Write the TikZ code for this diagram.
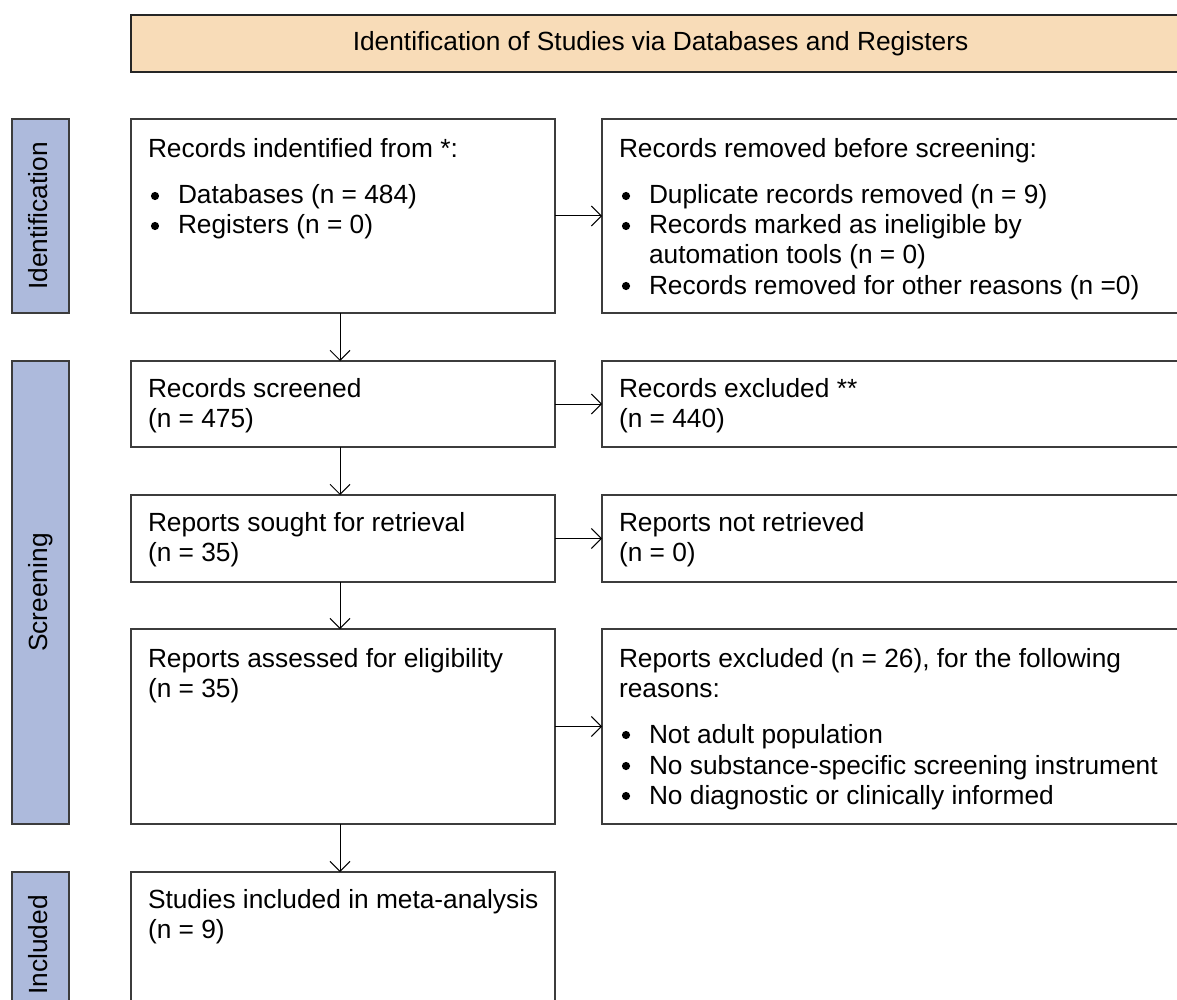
\documentclass[tikz,border=0pt]{standalone}
\usepackage{fontspec}
\setmainfont{Liberation Sans}
\usetikzlibrary{arrows.meta}
\definecolor{peach}{HTML}{F8DCB8}
\definecolor{barblue}{HTML}{ADBADC}
\definecolor{edgegray}{HTML}{3C3C3C}
\begin{document}
\begin{tikzpicture}[x=1pt,y=-1pt,
  every node/.style={inner sep=0pt, outer sep=0pt},
  txt/.style={font=\fontsize{26.3}{30}\selectfont, anchor=base west},
  bul/.style={circle, fill=black, minimum size=8.2pt},
  box/.style={draw=edgegray, line width=1.4pt, fill=white, rectangle, anchor=north west},
  bar/.style={draw=edgegray, line width=1.4pt, fill=barblue, rectangle, anchor=north west, minimum width=57pt},
  barlabel/.style={font=\fontsize{26.3}{30}\selectfont, rotate=90, text height=18pt, text depth=5pt},
  arr/.style={line width=1pt, -{Straight Barb[length=10pt,width=20pt,line width=1pt]}}
]
\useasboundingbox (0,0) rectangle (1177,1000);
\clip (0,0) rectangle (1177,1000);

% header
\node[draw=black!85, line width=1.3pt, fill=peach, rectangle, anchor=north west,
      minimum width=1059pt, minimum height=57pt] (head) at (131,15) {};
\node[font=\fontsize{26.3}{30}\selectfont] (headt) at (head.center) {Identification of Studies via Databases and Registers};

% side bars
\node[bar, minimum height=194pt] (sid) at (12,119) {};
\node[barlabel] (sidt) at (sid.center) {Identification};
\node[bar, minimum height=463pt] (sscr) at (12,361) {};
\node[barlabel] (sscrt) at (sscr.center) {Screening};
\node[bar, minimum height=146pt] (sinc) at (12,872) {};
\node[barlabel] (sinct) at (sinc.center) {Included};

% left column boxes
\node[box, minimum width=424pt, minimum height=194pt] (b1) at (131,119) {};
\node[box, minimum width=424pt, minimum height=86pt] (b3) at (131,361) {};
\node[box, minimum width=424pt, minimum height=87pt] (b5) at (131,495) {};
\node[box, minimum width=424pt, minimum height=195pt] (b7) at (131,629) {};
\node[box, minimum width=424pt, minimum height=150pt] (b9) at (131,872) {};

% right column boxes
\node[box, minimum width=590pt, minimum height=194pt] (b2) at (602,119) {};
\node[box, minimum width=590pt, minimum height=86pt] (b4) at (602,361) {};
\node[box, minimum width=590pt, minimum height=87pt] (b6) at (602,495) {};
\node[box, minimum width=590pt, minimum height=195pt] (b8) at (602,629) {};

% box 1 text
\node[txt] (b1a) at (148,158) {Records indentified from *:};
\node[bul] (b1bb) at (155,196) {};
\node[txt] (b1b) at (178,204) {Databases (n = 484)};
\node[bul] (b1cb) at (155,226) {};
\node[txt] (b1c) at (178,234) {Registers (n = 0)};

% box 2 text
\node[txt] (b2a) at (619,158) {Records removed before screening:};
\node[bul] (b2bb) at (626,196) {};
\node[txt] (b2b) at (649,204) {Duplicate records removed (n = 9)};
\node[bul] (b2cb) at (626,226) {};
\node[txt] (b2c) at (649,234) {Records marked as ineligible by};
\node[txt] (b2d) at (649,264) {automation tools (n = 0)};
\node[bul] (b2eb) at (626,286) {};
\node[txt] (b2e) at (649,294) {Records removed for other reasons (n =0)};

% box 3 / 4
\node[txt] (b3a) at (148,397) {Records screened};
\node[txt] (b3b) at (148,427) {(n = 475)};
\node[txt] (b4a) at (619,397) {Records excluded **};
\node[txt] (b4b) at (619,427) {(n = 440)};

% box 5 / 6
\node[txt] (b5a) at (148,531) {Reports sought for retrieval};
\node[txt] (b5b) at (148,561) {(n = 35)};
\node[txt] (b6a) at (619,531) {Reports not retrieved};
\node[txt] (b6b) at (619,561) {(n = 0)};

% box 7 / 8
\node[txt] (b7a) at (148,667) {Reports assessed for eligibility};
\node[txt] (b7b) at (148,697) {(n = 35)};
\node[txt] (b8a) at (619,667) {Reports excluded (n = 26), for the following};
\node[txt] (b8b) at (619,697) {reasons:};
\node[bul] (b8cb) at (626,735) {};
\node[txt] (b8c) at (649,743) {Not adult population};
\node[bul] (b8db) at (626,766) {};
\node[txt] (b8d) at (649,774) {No substance-specific screening instrument};
\node[bul] (b8eb) at (626,796) {};
\node[txt] (b8e) at (649,804) {No diagnostic or clinically informed};

% box 9
\node[txt] (b9a) at (148,908) {Studies included in meta-analysis};
\node[txt] (b9b) at (148,938) {(n = 9)};

% arrows
\draw[arr] ([xshift=-3pt]b1.south) -- ([xshift=-3pt]b3.north);
\draw[arr] ([xshift=-3pt]b3.south) -- ([xshift=-3pt]b5.north);
\draw[arr] ([xshift=-3pt]b5.south) -- ([xshift=-3pt]b7.north);
\draw[arr] ([xshift=-3pt]b7.south) -- ([xshift=-3pt]b9.north);
\draw[arr] (b1.east) -- (b2.west);
\draw[arr] (b3.east) -- (b4.west);
\draw[arr] (b5.east) -- (b6.west);
\draw[arr] (b7.east) -- (b8.west);
\end{tikzpicture}
\end{document}
